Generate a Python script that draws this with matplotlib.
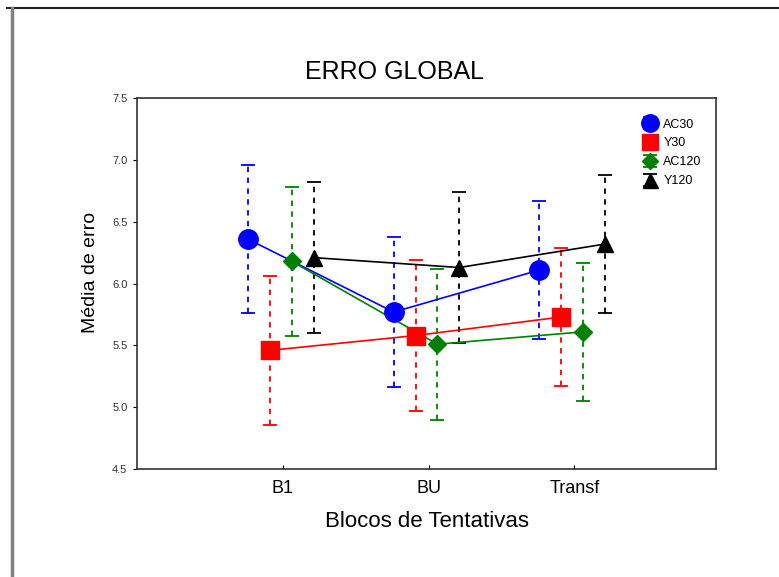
import numpy as np
from matplotlib import pyplot as plt
from matplotlib.lines import Line2D

plt.rcParams['font.family'] = ['Liberation Sans', 'DejaVu Sans']

# Block means and error bar half-widths for each group.
blocks = ['B1', 'BU', 'Transf']
groups = ['AC30', 'Y30', 'AC120', 'Y120']
means = {
    'AC30': [6.36, 5.77, 6.11],
    'Y30': [5.46, 5.58, 5.73],
    'AC120': [6.18, 5.51, 5.61],
    'Y120': [6.21, 6.13, 6.32],
}
errors = {
    'AC30': [0.60, 0.61, 0.56],
    'Y30': [0.60, 0.61, 0.56],
    'AC120': [0.60, 0.61, 0.56],
    'Y120': [0.61, 0.61, 0.56],
}

colors = {'AC30': 'blue', 'Y30': 'red', 'AC120': 'green', 'Y120': 'black'}
markers = {'AC30': ('o', 14), 'Y30': ('s', 13), 'AC120': ('D', 9), 'Y120': ('^', 12)}
offsets = {'AC30': -0.24, 'Y30': -0.09, 'AC120': 0.06, 'Y120': 0.21}

fig = plt.figure(figsize=(7.79, 5.77), dpi=100)
ax = fig.add_axes([0.176, 0.187, 0.743, 0.643])

x = np.arange(1, len(blocks) + 1)
containers = []
for g in groups:
    xs = x + offsets[g]
    m, ms = markers[g]
    c = colors[g]
    ax.plot(xs, means[g], color=c, lw=1.2, zorder=2)
    eb = ax.errorbar(xs, means[g], yerr=errors[g], fmt=m, ms=ms, color=c,
                     ecolor=c, elinewidth=1.3, capsize=5, capthick=1.3,
                     linestyle='none', zorder=3)
    eb[2][0].set_linestyle((0, (3, 3)))
    eb[2][0].set_zorder(1)
    for cap in eb[1]:
        cap.set_zorder(1)
    containers.append(eb)

leg = ax.legend(containers, groups, loc='upper right', bbox_to_anchor=(0.995, 0.975),
                frameon=False, fontsize=9, handlelength=1.3, handletextpad=0.4,
                labelspacing=0.55, markerscale=0.9)

ax.set_xlim(0, 3.97)
ax.set_ylim(4.5, 7.5)
ax.set_xticks(x)
ax.set_xticklabels(blocks, fontsize=13)
ax.set_yticks([4.5, 5.0, 5.5, 6.0, 6.5, 7.0, 7.5])
ax.set_yticklabels(['4.5', '5.0', '5.5', '6.0', '6.5', '7.0', '7.5'],
                   fontsize=8, color='#333333')
ax.tick_params(axis='x', direction='in', length=3, pad=8)
ax.tick_params(axis='y', direction='out', length=3, pad=4)
for s in ax.spines.values():
    s.set_linewidth(1.2)
    s.set_color('#333333')

ax.set_xlabel('Blocos de Tentativas', fontsize=16, labelpad=10)
ax.set_ylabel('Média de erro', fontsize=14)
ax.yaxis.set_label_coords(-0.066, 0.53)
fig.text(0.506, 0.875, 'ERRO GLOBAL', ha='center', va='center', fontsize=18)

# page frame lines
fig.add_artist(Line2D([0.009, 1.0], [0.986, 0.986], color='#222222', lw=1.5))
fig.add_artist(Line2D([0.015, 0.015], [0.0, 0.986], color='#808080', lw=2.5))

fig.savefig('out.png', dpi=100)
